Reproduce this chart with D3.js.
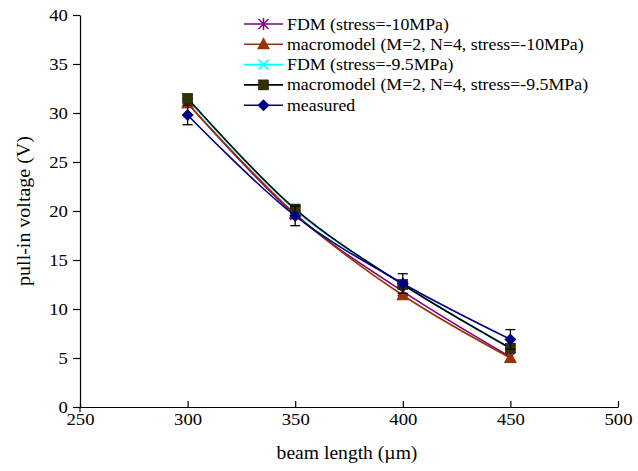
<!DOCTYPE html>
<html>
<head>
<meta charset="utf-8">
<script src="https://cdn.jsdelivr.net/npm/d3@7"></script>
<style>
  body { margin: 0; background: #fff; }
  svg text { font-family: "Liberation Serif", "Times New Roman", serif; fill: #000; }
</style>
</head>
<body>
<svg id="chart" width="638" height="471"></svg>
<script>
// beam length (um)
const lengths = [300, 350, 400, 450];

const fdm10 = [31.0, 19.6, 11.8, 5.1];
const macro10 = [31.0, 19.7, 11.4, 5.0];
const fdm95 = [31.4, 20.1, 12.5, 6.0];
const macro95 = [31.5, 20.2, 12.5, 6.0];
const measured = [29.8, 19.5, 12.6, 6.9];
const measuredErr = [1, 1, 1, 1];

const xTicks = [250, 300, 350, 400, 450, 500];
const yTicks = [0, 5, 10, 15, 20, 25, 30, 35, 40];

const series = [
  {name: "FDM (stress=-10MPa)", values: fdm10, color: "#800080", marker: "asterisk"},
  {name: "macromodel (M=2, N=4, stress=-10MPa)", values: macro10, color: "#993300", marker: "triangle"},
  {name: "FDM (stress=-9.5MPa)", values: fdm95, color: "#00ffff", marker: "cross"},
  {name: "macromodel (M=2, N=4, stress=-9.5MPa)", values: macro95, color: "#000000", fill: "#333300", marker: "square"},
  {name: "measured", values: measured, color: "#000080", marker: "diamond"}
];

const svg = d3.select("#chart");
const x = d3.scaleLinear().domain([250, 500]).range([80, 618]);
const y = d3.scaleLinear().domain([0, 40]).range([407, 15]);

// axes
const xAxis = svg.append("g")
    .attr("transform", `translate(0,${y(0)})`)
    .call(d3.axisBottom(x).tickValues(xTicks).tickSizeInner(-6).tickSizeOuter(0).tickPadding(6));
const yAxis = svg.append("g")
    .attr("transform", `translate(${x(250)},0)`)
    .call(d3.axisLeft(y).tickValues(yTicks).tickSizeInner(7).tickSizeOuter(0).tickPadding(4));
[xAxis, yAxis].forEach(a => {
  a.select(".domain").attr("stroke", "#000").attr("stroke-width", 1.2);
  a.selectAll(".tick line").attr("stroke", "#000").attr("stroke-width", 1.2);
  a.selectAll(".tick text")
    .style("font-size", "17px")
    .attr("transform", "scale(1.1,1)");
});
// the 250 tick crosses the axis
svg.append("line").attr("x1", x(250)).attr("x2", x(250))
  .attr("y1", y(0)).attr("y2", y(0) + 5).attr("stroke", "#000").attr("stroke-width", 1.2);

svg.append("text")
  .attr("transform", `translate(${(x(250) + x(500)) / 2 - 2},459) scale(1.06,1)`)
  .attr("text-anchor", "middle")
  .style("font-size", "18.5px")
  .text("beam length (\u00b5m)");

svg.append("text")
  .attr("transform", `translate(30,211) rotate(-90) scale(1.08,1)`)
  .attr("text-anchor", "middle")
  .style("font-size", "18.5px")
  .text("pull-in voltage (V)");

function drawMarker(g, type, color, fill) {
  if (type === "triangle") {
    g.append("path").attr("d", "M0,-7L6.5,5L-6.5,5Z").attr("fill", fill || color);
  } else if (type === "square") {
    g.append("rect").attr("x", -5).attr("y", -5).attr("width", 10).attr("height", 10)
      .attr("fill", fill || color).attr("stroke", "#000").attr("stroke-width", 0.5);
  } else if (type === "diamond") {
    g.append("path").attr("d", "M0,-6L6,0L0,6L-6,0Z").attr("fill", fill || color);
  } else if (type === "cross") {
    g.append("path").attr("d", "M-5,-5L5,5M-5,5L5,-5").attr("stroke", color).attr("stroke-width", 1.5);
  } else if (type === "asterisk") {
    g.append("path").attr("d", "M-5,-5L5,5M-5,5L5,-5M0,-6L0,6").attr("stroke", color).attr("stroke-width", 1.5);
  }
}

const line = d3.line()
  .x((d, i) => x(lengths[i]))
  .y(d => y(d))
  .curve(d3.curveCatmullRom.alpha(0.5));

series.forEach(s => {
  svg.append("path")
    .datum(s.values)
    .attr("fill", "none")
    .attr("stroke", s.color)
    .attr("stroke-width", 1.6)
    .attr("d", line);
  if (s.marker === "diamond") {
    // error bars for measured
    s.values.forEach((v, i) => {
      const e = measuredErr[i];
      const g = svg.append("g").attr("stroke", "#000").attr("stroke-width", 1.3);
      g.append("line").attr("x1", x(lengths[i])).attr("x2", x(lengths[i])).attr("y1", y(v - e)).attr("y2", y(v + e));
      g.append("line").attr("x1", x(lengths[i]) - 5).attr("x2", x(lengths[i]) + 5).attr("y1", y(v - e)).attr("y2", y(v - e));
      g.append("line").attr("x1", x(lengths[i]) - 5).attr("x2", x(lengths[i]) + 5).attr("y1", y(v + e)).attr("y2", y(v + e));
    });
  }
  s.values.forEach((v, i) => {
    const g = svg.append("g").attr("transform", `translate(${x(lengths[i])},${y(v)})`);
    drawMarker(g, s.marker, s.color, s.fill);
  });
});

// legend
const legend = svg.append("g").attr("transform", "translate(244,24)");
series.forEach((s, i) => {
  const row = legend.append("g").attr("transform", `translate(0,${i * 20.3})`);
  row.append("line").attr("x1", 0).attr("x2", 39).attr("y1", 0).attr("y2", 0)
    .attr("stroke", s.color).attr("stroke-width", 1.6);
  drawMarker(row.append("g").attr("transform", "translate(19.5,0)"), s.marker, s.color, s.fill);
  row.append("text")
    .attr("transform", "translate(43,5.5) scale(1.08,1)")
    .style("font-size", "16.5px")
    .text(s.name);
});
</script>
</body>
</html>
